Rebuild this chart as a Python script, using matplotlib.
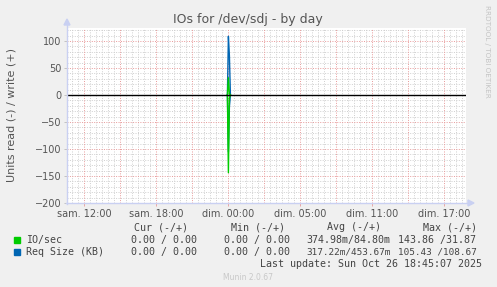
import matplotlib
matplotlib.use("Agg")
import matplotlib.pyplot as plt
from matplotlib.lines import Line2D
from matplotlib.patches import Rectangle

# ---------------- data ----------------
# time in hours since Saturday 00:00 (real elapsed hours), 5-minute samples around the spike
times = [23.917, 24.0, 24.083, 24.167]
io_write = [0, 31.87, 2.0, 0]
io_read = [0, 143.86, 6.1, 0]
req_write = [0, 108.67, 72.8, 0]
req_read = [0, 105.43, 21.5, 0]

xtick_pos = [12, 18, 24, 30, 36, 42]
xtick_labels = ["sam. 12:00", "sam. 18:00", "dim. 00:00", "dim. 05:00", "dim. 11:00", "dim. 17:00"]
yticks = [-200, -150, -100, -50, 0, 50, 100]

series_names = ["IO/sec", "Req Size (KB)"]
series_colors = ["#00CC00", "#0066B3"]
cur_vals = ["0.00 / 0.00", "0.00 / 0.00"]
min_vals = ["0.00 / 0.00", "0.00 / 0.00"]
avg_vals = ["374.98m/84.80m", "317.22m/453.67m"]
max_vals = ["143.86 /31.87", "105.43 /108.67"]

# ---------------- figure ----------------
W, H = 497, 287
fig = plt.figure(figsize=(W / 100, H / 100), dpi=100, facecolor="#F0F0F0")

def fx(x):
    return x / W

def fy(y):
    return 1 - y / H

L, R, T, B = 67, 466, 28, 203
ax = fig.add_axes([fx(L), fy(B), (R - L) / W, (B - T) / H])
ax.set_facecolor("white")
ax.set_xlim(10.55, 43.8)
ax.set_ylim(-200, 124)

# grid
minor_c = "#CFCFCF"
major_c = "#E89A9A"
h = 10.5
while h < 43.8:
    if abs(h / 3 - round(h / 3)) > 1e-6:
        ax.axvline(h, color=minor_c, lw=0.7, ls=(0, (1, 1.5)), zorder=1)
    h += 0.5
for hh in range(12, 44, 3):
    ax.axvline(hh, color=major_c, lw=0.7, ls=(0, (1, 1.5)), zorder=1.5)
for v in range(-200, 125, 10):
    if v % 50 != 0:
        ax.axhline(v, color=minor_c, lw=0.7, ls=(0, (1, 1.5)), zorder=1)
for v in range(-150, 125, 50):
    ax.axhline(v, color=major_c, lw=0.7, ls=(0, (1, 1.5)), zorder=1.5)

# data
ax.plot(times, req_write, color=series_colors[1], lw=1, zorder=2.8)
ax.plot(times, [-v for v in req_read], color=series_colors[1], lw=1, zorder=2.8)
ax.plot(times, io_write, color=series_colors[0], lw=1, zorder=3)
ax.plot(times, [-v for v in io_read], color=series_colors[0], lw=1, zorder=3)

ax.axhline(0, color="black", lw=1, zorder=4)

for s in ax.spines.values():
    s.set_visible(False)

ax.set_xticks(xtick_pos)
ax.set_xticklabels(xtick_labels)
ax.set_yticks(yticks)
ax.tick_params(axis="both", labelsize=7, labelcolor="#555555", length=2,
               color="#BBBBBB", width=0.6, pad=2)
ax.tick_params(axis="x", colors=major_c, labelcolor="#555555")

# axis lines with arrows
axis_c = "#C9D0F2"
fig.add_artist(Line2D([fx(L), fx(L)], [fy(B + 1), fy(T - 3)], color=axis_c, lw=1))
fig.add_artist(Line2D([fx(L - 1), fx(R + 2)], [fy(B), fy(B)], color=axis_c, lw=1))
fig.add_artist(plt.Polygon([[fx(L - 3), fy(T - 3)], [fx(L + 3), fy(T - 3)], [fx(L), fy(T - 9)]],
                           closed=True, color=axis_c, transform=fig.transFigure))
fig.add_artist(plt.Polygon([[fx(R + 2), fy(B - 3)], [fx(R + 2), fy(B + 3)], [fx(R + 8), fy(B)]],
                           closed=True, color=axis_c, transform=fig.transFigure))

# title and labels
fig.text(fx(248), fy(19), "IOs for /dev/sdj - by day", ha="center", va="center",
         fontsize=9, color="#555555")
fig.text(fx(12), fy(115), "Units read (-) / write (+)", rotation=90, ha="center",
         va="center", fontsize=8, color="#555555")
fig.text(fx(487), fy(5), "RRDTOOL / TOBI OETIKER", rotation=270, ha="center", va="top",
         fontsize=5.2, color="#C4C4C4")

# legend
mono = "DejaVu Sans Mono"
fs = 7.2
tc = "#444444"
rows_y = [239.5, 252]
fig.text(fx(134), fy(227.5), "Cur (-/+)", family=mono, fontsize=fs, color=tc, va="center")
fig.text(fx(231), fy(227.5), "Min (-/+)", family=mono, fontsize=fs, color=tc, va="center")
fig.text(fx(327), fy(227.5), "Avg (-/+)", family=mono, fontsize=fs, color=tc, va="center")
fig.text(fx(423), fy(227.5), "Max (-/+)", family=mono, fontsize=fs, color=tc, va="center")

for i, yy in enumerate(rows_y):
    fig.add_artist(Rectangle((fx(14), fy(yy + 3)), 6 / W, 6 / H, color=series_colors[i],
                             transform=fig.transFigure))
    fig.text(fx(26), fy(yy), series_names[i], family=mono, fontsize=fs, color=tc, va="center")
    for txt, x0, x1 in [(cur_vals[i], 131, 197), (min_vals[i], 224, 290),
                        (avg_vals[i], 306, 390), (max_vals[i], 398, 477)]:
        # fit each column string into its column width (6 px per char at full size)
        size = min(fs, fs * (x1 - x0) / (6.0 * len(txt)))
        fig.text(fx(x0), fy(yy), txt, family=mono, fontsize=size, color=tc, va="center", ha="left")

fig.text(fx(482), fy(264), "Last update: Sun Oct 26 18:45:07 2025", family=mono, fontsize=fs,
         color=tc, va="center", ha="right")
fig.text(fx(248), fy(277), "Munin 2.0.67", fontsize=5.5, color="#C8C8C8", ha="center", va="center")

fig.savefig("out.png", dpi=100, facecolor=fig.get_facecolor())
